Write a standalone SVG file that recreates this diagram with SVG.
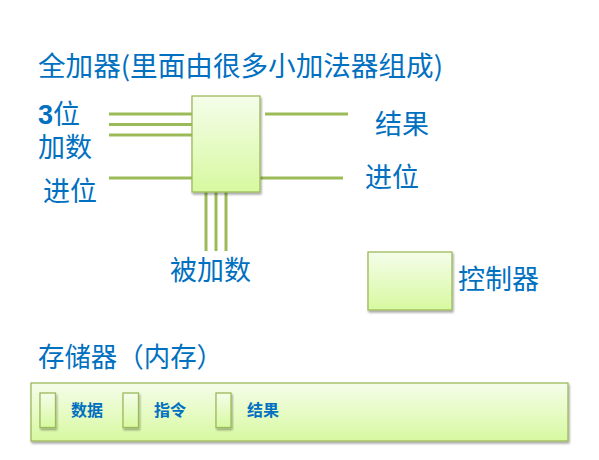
<svg xmlns="http://www.w3.org/2000/svg" width="599" height="460" viewBox="0 0 599 460">
<defs>
<linearGradient id="g" x1="0" y1="0" x2="0" y2="1">
<stop offset="0" stop-color="#F5FDEA"/>
<stop offset="1" stop-color="#D7F9A0"/>
</linearGradient>
<filter id="sh" x="-10%" y="-10%" width="130%" height="130%">
<feGaussianBlur in="SourceAlpha" stdDeviation="1.2"/>
<feOffset dx="1" dy="2" result="b"/>
<feComponentTransfer><feFuncA type="linear" slope="0.35"/></feComponentTransfer>
<feMerge><feMergeNode/><feMergeNode in="SourceGraphic"/></feMerge>
</filter>
</defs>
<style>
.t{font-family:"Microsoft YaHei","Noto Sans CJK SC",sans-serif;fill:#0070C0;font-size:27px}
.s{font-family:"Noto Sans CJK SC",sans-serif;fill:#0070C0;font-size:16px;font-weight:bold}
.box{fill:url(#g);stroke:#9BBB59;stroke-width:1.3;filter:url(#sh)}
.w{stroke:#9BBB59;stroke-width:3;fill:none}
</style>
<rect width="599" height="460" fill="#FFFFFF"/>
<text class="t" x="38" y="76" textLength="405" lengthAdjust="spacingAndGlyphs">全加器(里面由很多小加法器组成)</text>
<g id="connectors">
<line class="w" x1="109" y1="114" x2="193" y2="114"/>
<line class="w" x1="109" y1="124.5" x2="193" y2="124.5"/>
<line class="w" x1="109" y1="135" x2="193" y2="135"/>
<line class="w" x1="109" y1="178" x2="193" y2="178"/>
<line class="w" x1="265" y1="114" x2="348" y2="114"/>
<line class="w" x1="260" y1="178" x2="343" y2="178"/>
<line class="w" x1="206" y1="192" x2="206" y2="251"/>
<line class="w" x1="216" y1="192" x2="216" y2="251"/>
<line class="w" x1="226" y1="192" x2="226" y2="251"/>
</g>
<g id="adder">
<rect class="box" x="192" y="96" width="68" height="96"/>
</g>
<g id="labels">
<text class="t" x="38" y="124"><tspan font-weight="bold" font-family="Liberation Sans, sans-serif">3</tspan>位<tspan x="38" dy="33">加数</tspan></text>
<text class="t" x="43" y="201">进位</text>
<text class="t" x="375" y="134">结果</text>
<text class="t" x="365" y="187">进位</text>
<text class="t" x="170" y="280">被加数</text>
</g>
<g id="controller">
<rect class="box" x="368" y="252" width="84" height="58"/>
<text class="t" x="458" y="289">控制器</text>
</g>
<text class="t" x="38" y="367" textLength="185" lengthAdjust="spacingAndGlyphs">存储器（内存）</text>
<g id="memory">
<rect class="box" x="31" y="383" width="537" height="58"/>
<rect class="box" x="40" y="393" width="15.5" height="34.5"/>
<rect class="box" x="123" y="393" width="15.5" height="34.5"/>
<rect class="box" x="216" y="393" width="15" height="34.5"/>
<text class="s" x="71" y="416">数据</text>
<text class="s" x="154" y="416">指令</text>
<text class="s" x="247" y="416">结果</text>
</g>
</svg>
